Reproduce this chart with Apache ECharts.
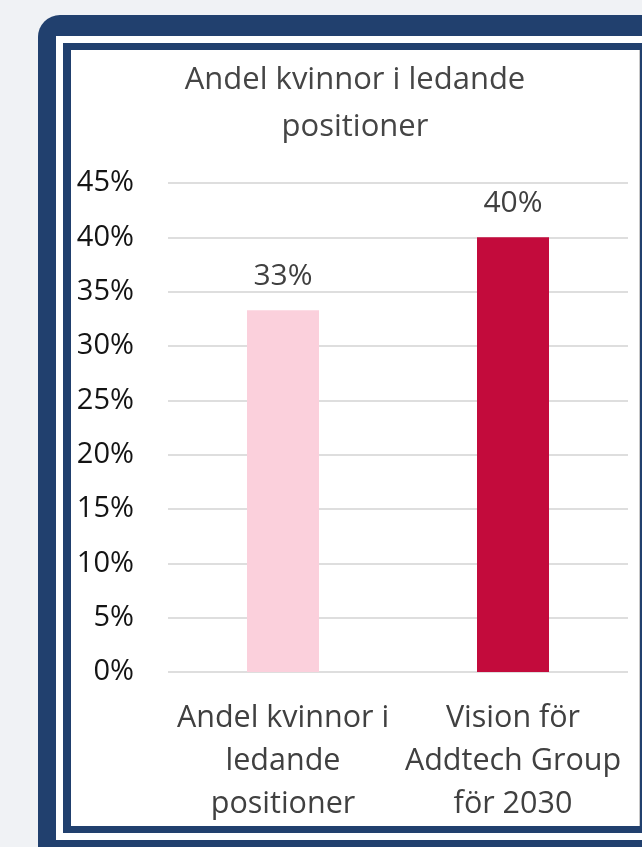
<!DOCTYPE html>
<html>
<head>
<meta charset="utf-8">
<script src="https://cdn.jsdelivr.net/npm/echarts@6/dist/echarts.min.js"></script>
<style>
    html, body { margin: 0; padding: 0; width: 642px; height: 847px; overflow: hidden; background: #f0f2f5; }
    .outer { position: absolute; left: 38px; top: 15px; width: 700px; height: 900px; background: #21406e; border-radius: 22px; }
    .gap { position: absolute; left: 56px; top: 36px; width: 700px; height: 804px; background: #fff; }
    .line { position: absolute; left: 63px; top: 43px; width: 700px; height: 790px; background: #21406e; }
    .card { position: absolute; left: 71px; top: 50px; width: 568px; height: 776px; background: #fff; border-right: 1px solid #c8c8c8; }
    #chart { width: 568px; height: 776px; }
</style>
</head>
<body>
<div class="outer"></div>
<div class="gap"></div>
<div class="line"></div>
<div class="card"><div id="chart"></div></div>
<script>
// data
const chartTitle = 'Andel kvinnor i ledande\npositioner';
const categories = ['Andel kvinnor i\nledande\npositioner', 'Vision för\nAddtech Group\nför 2030'];
const values = [33.3, 40];
const barColors = ['#fbd0dc', '#c30b3c'];
const yTicks = { min: 0, max: 45, interval: 5 };

const font = '"Open Sans", sans-serif';

function getOption() {
    let option = {
        animation: false,
        title: {
            text: chartTitle,
            left: 'center',
            top: 2,
            textStyle: {
                fontFamily: font,
                fontSize: 31,
                fontWeight: 'normal',
                color: '#454545',
                lineHeight: 47
            }
        },
        grid: {
            left: 97,
            right: 11,
            top: 133,
            bottom: 154
        },
        xAxis: {
            type: 'category',
            data: categories,
            axisLine: { show: false },
            axisTick: { show: false },
            axisLabel: {
                interval: 0,
                margin: 25,
                fontFamily: font,
                fontSize: 30.5,
                color: '#404040',
                lineHeight: 43
            }
        },
        yAxis: {
            type: 'value',
            min: yTicks.min,
            max: yTicks.max,
            interval: yTicks.interval,
            axisLine: { show: false },
            axisTick: { show: false },
            splitLine: { lineStyle: { color: '#dedede', width: 2 } },
            axisLabel: {
                margin: 34,
                fontFamily: font,
                fontSize: 29,
                color: '#141414',
                formatter: '{value}%'
            }
        },
        series: [
            {
                type: 'bar',
                barWidth: 72,
                data: values.map((v, i) => ({ value: v, itemStyle: { color: barColors[i] } })),
                label: {
                    show: true,
                    position: 'top',
                    distance: 19,
                    fontFamily: font,
                    fontSize: 30,
                    color: '#404040',
                    formatter: p => Math.round(p.value) + '%'
                }
            }
        ]
    };
    return option;
}

let myChart = echarts.init(document.getElementById('chart'));
myChart.setOption(getOption());
</script>
</body>
</html>
